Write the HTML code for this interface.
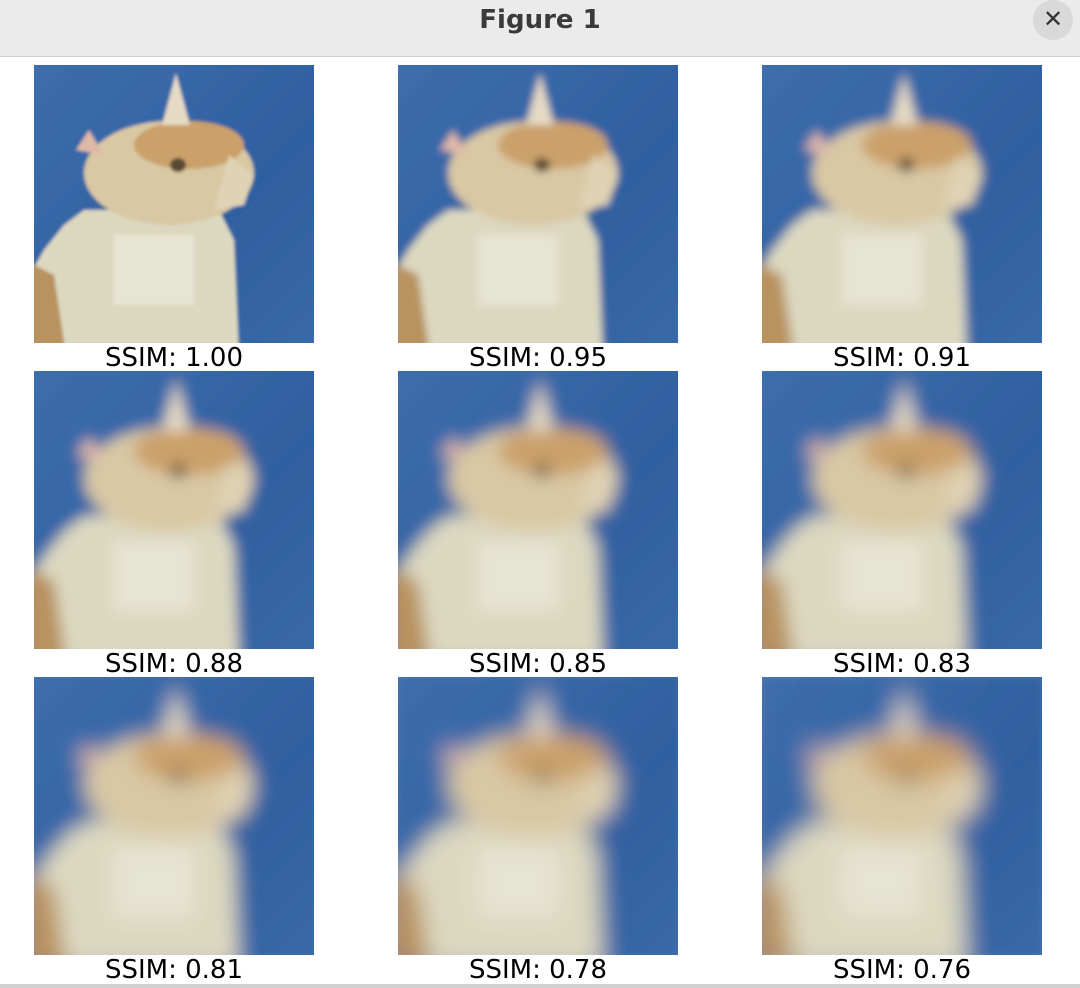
<!DOCTYPE html>
<html><head><meta charset="utf-8"><style>
html,body{margin:0;padding:0;width:1080px;height:988px;overflow:hidden;background:#fff;font-family:"Liberation Sans","DejaVu Sans",sans-serif}
#titlebar{position:absolute;left:0;top:0;width:1080px;height:56px;background:#ebebeb;border-bottom:1px solid #cfcfcf}
#title{position:absolute;left:0;width:1080px;top:5px;text-align:center;font-weight:bold;font-size:26px;color:#3a3a3a;font-family:"DejaVu Sans","Liberation Sans",sans-serif}
#close{position:absolute;left:1033px;top:0px;width:40px;height:40px;border-radius:50%;background:#d9d9d9;text-align:center;line-height:40px;font-size:24px;color:#333}
#bottom{position:absolute;left:0;top:984px;width:1080px;height:4px;background:#d0d0d0}
svg{position:absolute;left:0;top:0}
</style></head><body>
<div id="titlebar">
<div id="title">Figure 1</div>
<div id="close">✕</div>
</div>
<svg id="fig" width="1080" height="988">
<defs>
<linearGradient id="bg" x1="0" y1="0" x2="1" y2="1">
<stop offset="0" stop-color="#3f6fae"/><stop offset="0.6" stop-color="#2f5fa0"/><stop offset="1" stop-color="#3b6aa8"/>
</linearGradient>
<g id="cat">
<rect x="-20" y="-20" width="320" height="320" fill="url(#bg)"/>
<path d="M-10,290 L-10,220 L10,185 L30,160 L50,145 L185,145 L200,175 L205,290 Z" fill="#dcd8c0"/>
<path d="M-10,290 L-10,195 L20,210 L32,290 Z" fill="#b8925e"/>
<ellipse cx="135" cy="108" rx="85" ry="52" fill="#d9c8a4"/>
<ellipse cx="155" cy="80" rx="55" ry="24" fill="#cba06a"/>
<path d="M195,90 L220,110 L210,140 L180,145 Z" fill="#e0d2b4"/>
<polygon points="128,60 142,8 156,60" fill="#e6dac4"/>
<polygon points="42,85 55,65 70,90" fill="#e0b8a8"/>
<ellipse cx="144" cy="100" rx="8" ry="7" fill="#5a4a30"/>
<rect x="80" y="170" width="80" height="70" fill="#e6e4d2"/>
</g>
</defs>
</svg>
<div id="bottom"></div>
<script>
const labels = ["SSIM: 1.00","SSIM: 0.95","SSIM: 0.91","SSIM: 0.88","SSIM: 0.85","SSIM: 0.83","SSIM: 0.81","SSIM: 0.78","SSIM: 0.76"];
const ssim = [1.00,0.95,0.91,0.88,0.85,0.83,0.81,0.78,0.76];
const colX = [34,398,762];
const rowY = [65,371,677];
const W = 280, H = 278;
const NS = "http://www.w3.org/2000/svg";
const svg = document.getElementById('fig');
const defs = svg.querySelector('defs');
ssim.forEach((v,i)=>{
  const x = colX[i%3], y = rowY[Math.floor(i/3)];
  const blur = 1.5 + (1 - v) * 45;
  const f = document.createElementNS(NS,'filter');
  f.setAttribute('id','bl'+i);
  f.setAttribute('x','-0.2');f.setAttribute('y','-0.2');f.setAttribute('width','1.4');f.setAttribute('height','1.4');
  const g = document.createElementNS(NS,'feGaussianBlur');
  g.setAttribute('stdDeviation', blur);
  f.appendChild(g); defs.appendChild(f);
  const cp = document.createElementNS(NS,'clipPath');
  cp.setAttribute('id','cp'+i);
  const r = document.createElementNS(NS,'rect');
  r.setAttribute('x',0);r.setAttribute('y',0);r.setAttribute('width',W);r.setAttribute('height',H);
  cp.appendChild(r); defs.appendChild(cp);
  const grp = document.createElementNS(NS,'g');
  grp.setAttribute('transform',`translate(${x},${y})`);
  
  
  const inner = document.createElementNS(NS,'g');
  inner.setAttribute('clip-path',`url(#cp${i})`);
  const u = document.createElementNS(NS,'use');
  u.setAttribute('href','#cat');
  u.setAttribute('filter',`url(#bl${i})`);
  inner.appendChild(u); grp.appendChild(inner);
  svg.appendChild(grp);
  const t = document.createElementNS(NS,'text');
  t.setAttribute('x', x + W/2);
  t.setAttribute('y', y + H + 23);
  t.setAttribute('text-anchor','middle');
  t.setAttribute('font-size','26');
  t.setAttribute('font-family','"DejaVu Sans","Liberation Sans",sans-serif');
  t.setAttribute('fill','#000');
  
  
  t.textContent = labels[i];
  svg.appendChild(t);
});
</script>
</body></html>
